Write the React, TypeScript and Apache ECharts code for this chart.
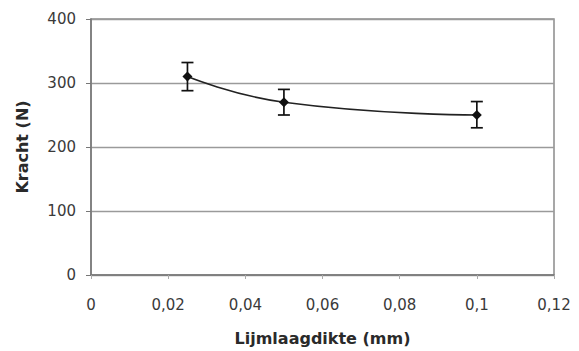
import React, { useEffect, useRef } from "react";
import * as echarts from "echarts";

const thickness = [0.025, 0.05, 0.1];
const force = [310, 270, 250];
const errLow = [288, 250, 230];
const errHigh = [332, 290, 271];
const xTicks = [0, 0.02, 0.04, 0.06, 0.08, 0.1, 0.12];
const yTicks = [0, 100, 200, 300, 400];

export default function App() {
  const ref = useRef<HTMLDivElement>(null);
  useEffect(() => {
    const chart = echarts.init(ref.current!, null, { renderer: "svg" });
    const font = "'DejaVu Sans', Arial, sans-serif";
    chart.setOption({
      animation: false,
      backgroundColor: "#fff",
      grid: {
        left: 91,
        top: 19,
        right: 25,
        bottom: 72,
        show: true,
        borderColor: "#8a8a8a",
        borderWidth: 1.5,
      },
      xAxis: {
        type: "value",
        min: xTicks[0],
        max: xTicks[xTicks.length - 1],
        interval: 0.02,
        name: "Lijmlaagdikte (mm)",
        nameLocation: "middle",
        nameGap: 55,
        nameTextStyle: { fontFamily: font, fontSize: 16, fontWeight: "bold", color: "#2a2a2a" },
        axisLine: { show: true, lineStyle: { color: "#777", width: 1.5 } },
        axisTick: { show: true, length: 4, lineStyle: { color: "#aaa" } },
        splitLine: { show: false },
        axisLabel: {
          fontFamily: font,
          fontSize: 15,
          color: "#3a3a3a",
          margin: 22,
          formatter: (v: number) => String(+v.toFixed(2)).replace(".", ","),
        },
      },
      yAxis: {
        type: "value",
        min: yTicks[0],
        max: yTicks[yTicks.length - 1],
        interval: 100,
        name: "Kracht (N)",
        nameLocation: "middle",
        nameGap: 61,
        nameTextStyle: { fontFamily: font, fontSize: 16, fontWeight: "bold", color: "#2a2a2a" },
        axisLine: { show: true, lineStyle: { color: "#777", width: 1.5 } },
        axisTick: { show: true, length: 5, lineStyle: { color: "#777" } },
        splitLine: { show: true, lineStyle: { color: "#9a9a9a", width: 1.3 } },
        axisLabel: { fontFamily: font, fontSize: 15, color: "#3a3a3a", margin: 15 },
      },
      series: [
        {
          type: "line",
          data: thickness.map((x, i) => [x, force[i]]),
          smooth: 0.5,
          symbol: "diamond",
          symbolSize: 10,
          itemStyle: { color: "#111" },
          lineStyle: { color: "#222", width: 1.6 },
          z: 3,
        },
        {
          type: "custom",
          data: thickness.map((x, i) => [x, errLow[i], errHigh[i]]),
          renderItem: (params: any, api: any) => {
            const x = api.value(0);
            const lo = api.coord([x, api.value(1)]);
            const hi = api.coord([x, api.value(2)]);
            const half = 6;
            const style = { stroke: "#111", lineWidth: 1.7 };
            return {
              type: "group",
              children: [
                { type: "line", shape: { x1: lo[0], y1: lo[1], x2: hi[0], y2: hi[1] }, style },
                { type: "line", shape: { x1: lo[0] - half, y1: lo[1], x2: lo[0] + half, y2: lo[1] }, style },
                { type: "line", shape: { x1: hi[0] - half, y1: hi[1], x2: hi[0] + half, y2: hi[1] }, style },
              ],
            };
          },
          z: 4,
        },
      ],
    });
    return () => chart.dispose();
  }, []);
  return (
    <div
      ref={ref}
      style={{ position: "fixed", left: 0, top: 0, width: 579, height: 351 }}
    />
  );
}
